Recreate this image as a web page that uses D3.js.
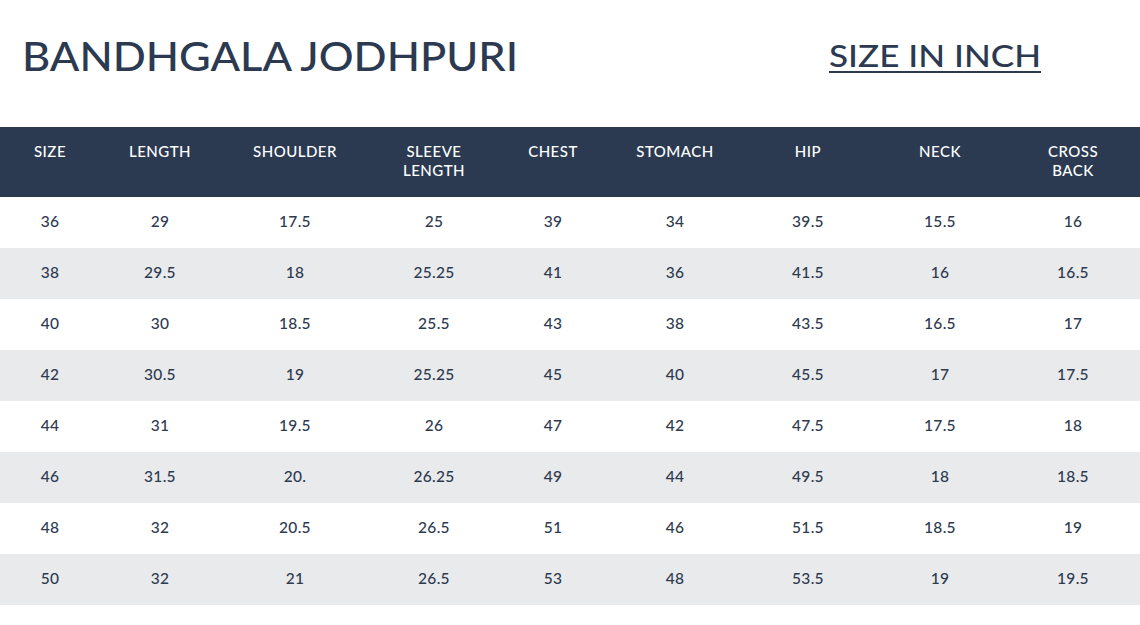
<!DOCTYPE html>
<html><head><meta charset="utf-8">
<script src="https://cdn.jsdelivr.net/npm/d3@7"></script>
<style>html,body{margin:0;padding:0;background:#fff;}svg{display:block;}</style>
</head><body>
<script>
const title = "BANDHGALA JODHPURI";
const subtitle = "SIZE IN INCH";
const headers = [["SIZE"],["LENGTH"],["SHOULDER"],["SLEEVE","LENGTH"],["CHEST"],["STOMACH"],["HIP"],["NECK"],["CROSS","BACK"]];
const sizes = ["36","38","40","42","44","46","48","50"];
const length = ["29","29.5","30","30.5","31","31.5","32","32"];
const shoulder = ["17.5","18","18.5","19","19.5","20.","20.5","21"];
const sleeveLength = ["25","25.25","25.5","25.25","26","26.25","26.5","26.5"];
const chest = ["39","41","43","45","47","49","51","53"];
const stomach = ["34","36","38","40","42","44","46","48"];
const hip = ["39.5","41.5","43.5","45.5","47.5","49.5","51.5","53.5"];
const neck = ["15.5","16","16.5","17","17.5","18","18.5","19"];
const crossBack = ["16","16.5","17","17.5","18","18.5","19","19.5"];

const columns = [sizes,length,shoulder,sleeveLength,chest,stomach,hip,neck,crossBack];

const W = 1140, H = 625;
const navy = "#2b3a51", gray = "#e9eaec", txt = "#2d3a4f";
const font = "'Lato','Open Sans',sans-serif";

const svg = d3.select("body").append("svg").attr("width",W).attr("height",H);
svg.append("rect").attr("width",W).attr("height",H).attr("fill","#fff");

// layout
const colX = d3.scaleOrdinal().domain(d3.range(headers.length))
  .range([50,160,295,434,553,675,808,940,1073]);
const y = d3.scaleBand().domain(d3.range(sizes.length)).range([197,605]).padding(0);

// title
svg.append("text").attr("x",22).attr("y",71).text(title)
  .attr("font-family",font).attr("font-size",40).attr("font-weight",500)
  .attr("fill",navy).attr("textLength",496).attr("lengthAdjust","spacingAndGlyphs");
svg.append("text").attr("x",829).attr("y",67).text(subtitle)
  .attr("font-family",font).attr("font-size",30).attr("font-weight",500)
  .attr("fill",navy).attr("textLength",212).attr("lengthAdjust","spacingAndGlyphs");
svg.append("rect").attr("x",829).attr("y",71).attr("width",212).attr("height",2).attr("fill",navy);

// header band
svg.append("rect").attr("x",0).attr("y",127).attr("width",W).attr("height",70).attr("fill",navy);
const hg = svg.append("g");
headers.forEach((lines,i)=>{
  lines.forEach((l,j)=>{
    hg.append("text").attr("x",colX(i)).attr("y",157+j*19).attr("text-anchor","middle")
      .attr("font-family",font).attr("font-size",15).attr("font-weight",500)
      .attr("fill","#fff").attr("letter-spacing",0.5).text(l);
  });
});

// rows
const rows = svg.append("g");
rows.selectAll("rect").data(sizes).join("rect")
  .attr("x",0).attr("width",W)
  .attr("y",(d,i)=>y(i)).attr("height",y.bandwidth())
  .attr("fill",(d,i)=> i%2 ? gray : "#fff");

columns.forEach((col,ci)=>{
  rows.selectAll(null).data(col).join("text")
    .attr("x",colX(ci)).attr("y",(d,i)=>y(i)+y.bandwidth()/2+4.5)
    .attr("text-anchor","middle")
    .attr("font-family",font).attr("font-size",15.5).attr("font-weight",500)
    .attr("fill",txt).attr("letter-spacing",0.3).text(d=>d);
});
</script>
</body></html>
